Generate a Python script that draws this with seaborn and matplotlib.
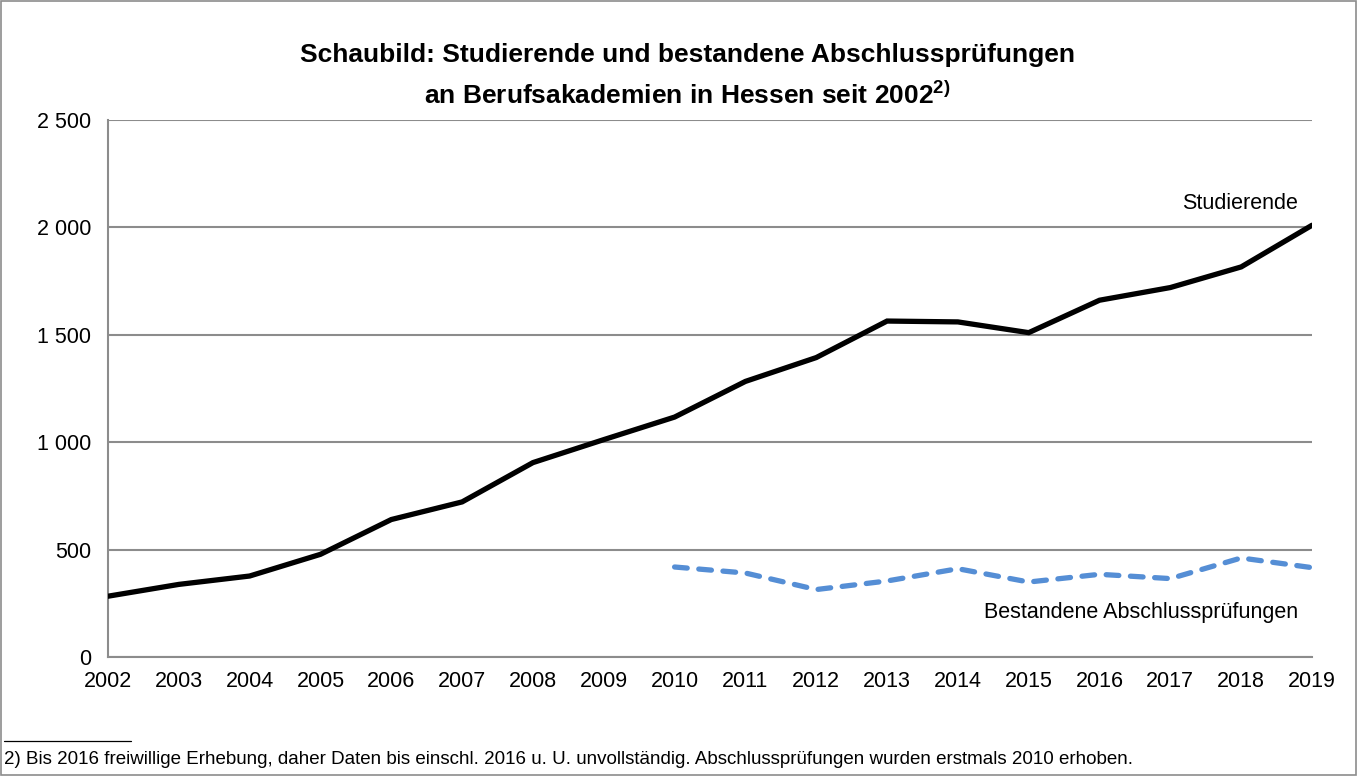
import numpy as np
import pandas as pd
import matplotlib
matplotlib.use("Agg")
import matplotlib.pyplot as plt
from matplotlib.ticker import FuncFormatter
from matplotlib.patches import Rectangle
from matplotlib.lines import Line2D
import seaborn as sns

# data
years = list(range(2002, 2020))
studierende = [283, 338, 377, 478, 640, 722, 905, 1012, 1117, 1283,
               1394, 1564, 1560, 1510, 1661, 1720, 1816, 2010]
abschluss_years = list(range(2010, 2020))
abschluss = [419, 391, 314, 354, 411, 349, 385, 365, 461, 416]

sns.set_theme(style="white")
plt.rcParams["font.family"] = ["Liberation Sans", "DejaVu Sans"]
plt.rcParams["text.color"] = "black"
plt.rcParams["mathtext.fontset"] = "custom"
plt.rcParams["mathtext.rm"] = "Liberation Sans:bold"
plt.rcParams["mathtext.bf"] = "Liberation Sans:bold"

grey = "#8c8c8c"
fs = 15.5

fig = plt.figure(figsize=(13.57, 7.76), dpi=100)
ax = fig.add_axes([108 / 1357, 1 - 657 / 776, (1312 - 108) / 1357, (657 - 120) / 776])

df_s = pd.DataFrame({"Jahr": years, "Wert": studierende})
df_a = pd.DataFrame({"Jahr": abschluss_years, "Wert": abschluss})

sns.lineplot(data=df_s, x="Jahr", y="Wert", ax=ax, color="black", lw=3.8,
             solid_joinstyle="miter", zorder=3)
sns.lineplot(data=df_a, x="Jahr", y="Wert", ax=ax, color="#558ed5", lw=3.8,
             dashes=False, zorder=3)
ax.lines[-1].set_linestyle((0, (2.4, 2.2)))
ax.lines[-1].set_dash_capstyle("round")

ax.set_xlim(2002, 2019)
ax.set_ylim(0, 2500)
ax.set_xticks(years)
ax.set_yticks([0, 500, 1000, 1500, 2000, 2500])
ax.yaxis.set_major_formatter(FuncFormatter(lambda v, p: f"{int(v):,}".replace(",", " ")))
ax.set_xlabel("")
ax.set_ylabel("")

ax.grid(axis="y", color=grey, lw=1.5)
ax.set_axisbelow(True)
for side in ["top", "right"]:
    ax.spines[side].set_visible(False)
for side in ["left", "bottom"]:
    ax.spines[side].set_color(grey)
    ax.spines[side].set_linewidth(1.5)
ax.tick_params(axis="both", direction="out", length=5, width=1.2, color=grey,
               labelsize=fs, labelcolor="black")
ax.tick_params(axis="x", pad=5)
ax.tick_params(axis="y", pad=7)

ax.text(2018.8, 2113, "Studierende", ha="right", va="center", fontsize=fs)
ax.text(2018.8, 207, "Bestandene Abschlussprüfungen", ha="right", va="center", fontsize=fs)

# title
fig.text(0.5066, 1 - 55 / 776, "Schaubild: Studierende und bestandene Abschlussprüfungen",
         ha="center", va="center", fontsize=19, fontweight="bold")
fig.text(0.5066, 1 - 95 / 776, r"an Berufsakademien in Hessen seit 2002$^{2)}$",
         ha="center", va="center", fontsize=19, fontweight="bold")

# footnote
fig.add_artist(Line2D([4 / 1357, 131 / 1357], [1 - 741 / 776, 1 - 741 / 776],
                      color="black", lw=0.9))
fig.text(4 / 1357, 1 - 760 / 776,
         "2) Bis 2016 freiwillige Erhebung, daher Daten bis einschl. 2016 u. U. unvollständig. "
         "Abschlussprüfungen wurden erstmals 2010 erhoben.",
         ha="left", va="center", fontsize=13.5)

# frame around the whole figure
fig.add_artist(Rectangle((0.0005, 0.0008), 0.999, 0.9985, transform=fig.transFigure,
                         fill=False, edgecolor=grey, lw=1.2))

fig.savefig("out.png", dpi=100)
